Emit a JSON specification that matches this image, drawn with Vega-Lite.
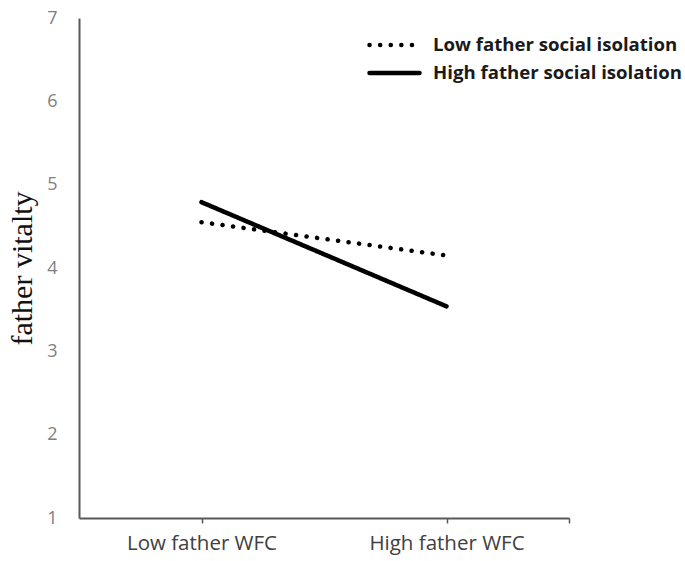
{
  "$schema": "https://vega.github.io/schema/vega-lite/v6.json",
  "width": 490,
  "height": 500,
  "autosize": "none",
  "padding": {"left": 79, "top": 18, "right": 116, "bottom": 43},
  "background": "white",
  "config": {"view": {"stroke": null}},
  "data": {"values": [
    {"wfc": 1, "vitality": 4.55, "group": "Low father social isolation"},
    {"wfc": 2, "vitality": 4.15, "group": "Low father social isolation"},
    {"wfc": 1, "vitality": 4.79, "group": "High father social isolation"},
    {"wfc": 2, "vitality": 3.54, "group": "High father social isolation"}
  ]},
  "mark": {"type": "line", "strokeCap": "round", "strokeWidth": 4.5, "color": "black"},
  "encoding": {
    "x": {"field": "wfc", "type": "quantitative",
      "scale": {"domain": [0.5, 2.5], "nice": false, "zero": false},
      "axis": {"values": [1, 2, 2.5], "labelExpr": "datum.value == 1 ? 'Low father WFC' : datum.value == 2 ? 'High father WFC' : ''",
        "grid": false, "title": null, "domainColor": "#595959", "domainWidth": 2, "tickColor": "#595959", "tickWidth": 1.5, "tickSize": 5,
        "labelFont": "Open Sans", "labelFontSize": 20.5, "labelColor": "#404040", "labelPadding": 10}},
    "y": {"field": "vitality", "type": "quantitative",
      "scale": {"domain": [1, 7], "nice": false, "zero": false},
      "axis": {"values": [1, 2, 3, 4, 5, 6, 7], "grid": false, "ticks": false, "domainColor": "#595959", "domainWidth": 2,
        "labelFont": "Open Sans", "labelFontSize": 18, "labelColor": "#7f7f7f", "labelPadding": 22,
        "title": "father vitalty", "titleFont": "Liberation Serif", "titleFontSize": 30, "titleFontWeight": "normal", "titleColor": "#111", "titleX": -42, "titleAngle": -90}},
    "strokeDash": {"field": "group", "type": "nominal",
      "scale": {"domain": ["Low father social isolation", "High father social isolation"], "range": [[0.1, 10.5], [1, 0]]},
      "legend": {"title": null, "orient": "none", "legendX": 288, "legendY": 13,
        "symbolType": "M-1,0H1", "symbolStrokeWidth": 4.5, "symbolSize": 2500, "symbolStrokeColor": "black",
        "clipHeight": 28, "rowPadding": 0,
        "labelFont": "Open Sans", "labelFontSize": 18.6, "labelFontWeight": "bold", "labelColor": "#1a1a1a", "labelOffset": 11, "labelLimit": 400,
        "encode": {"symbols": {"update": {"strokeCap": {"value": "round"}}}}}}
  }
}
